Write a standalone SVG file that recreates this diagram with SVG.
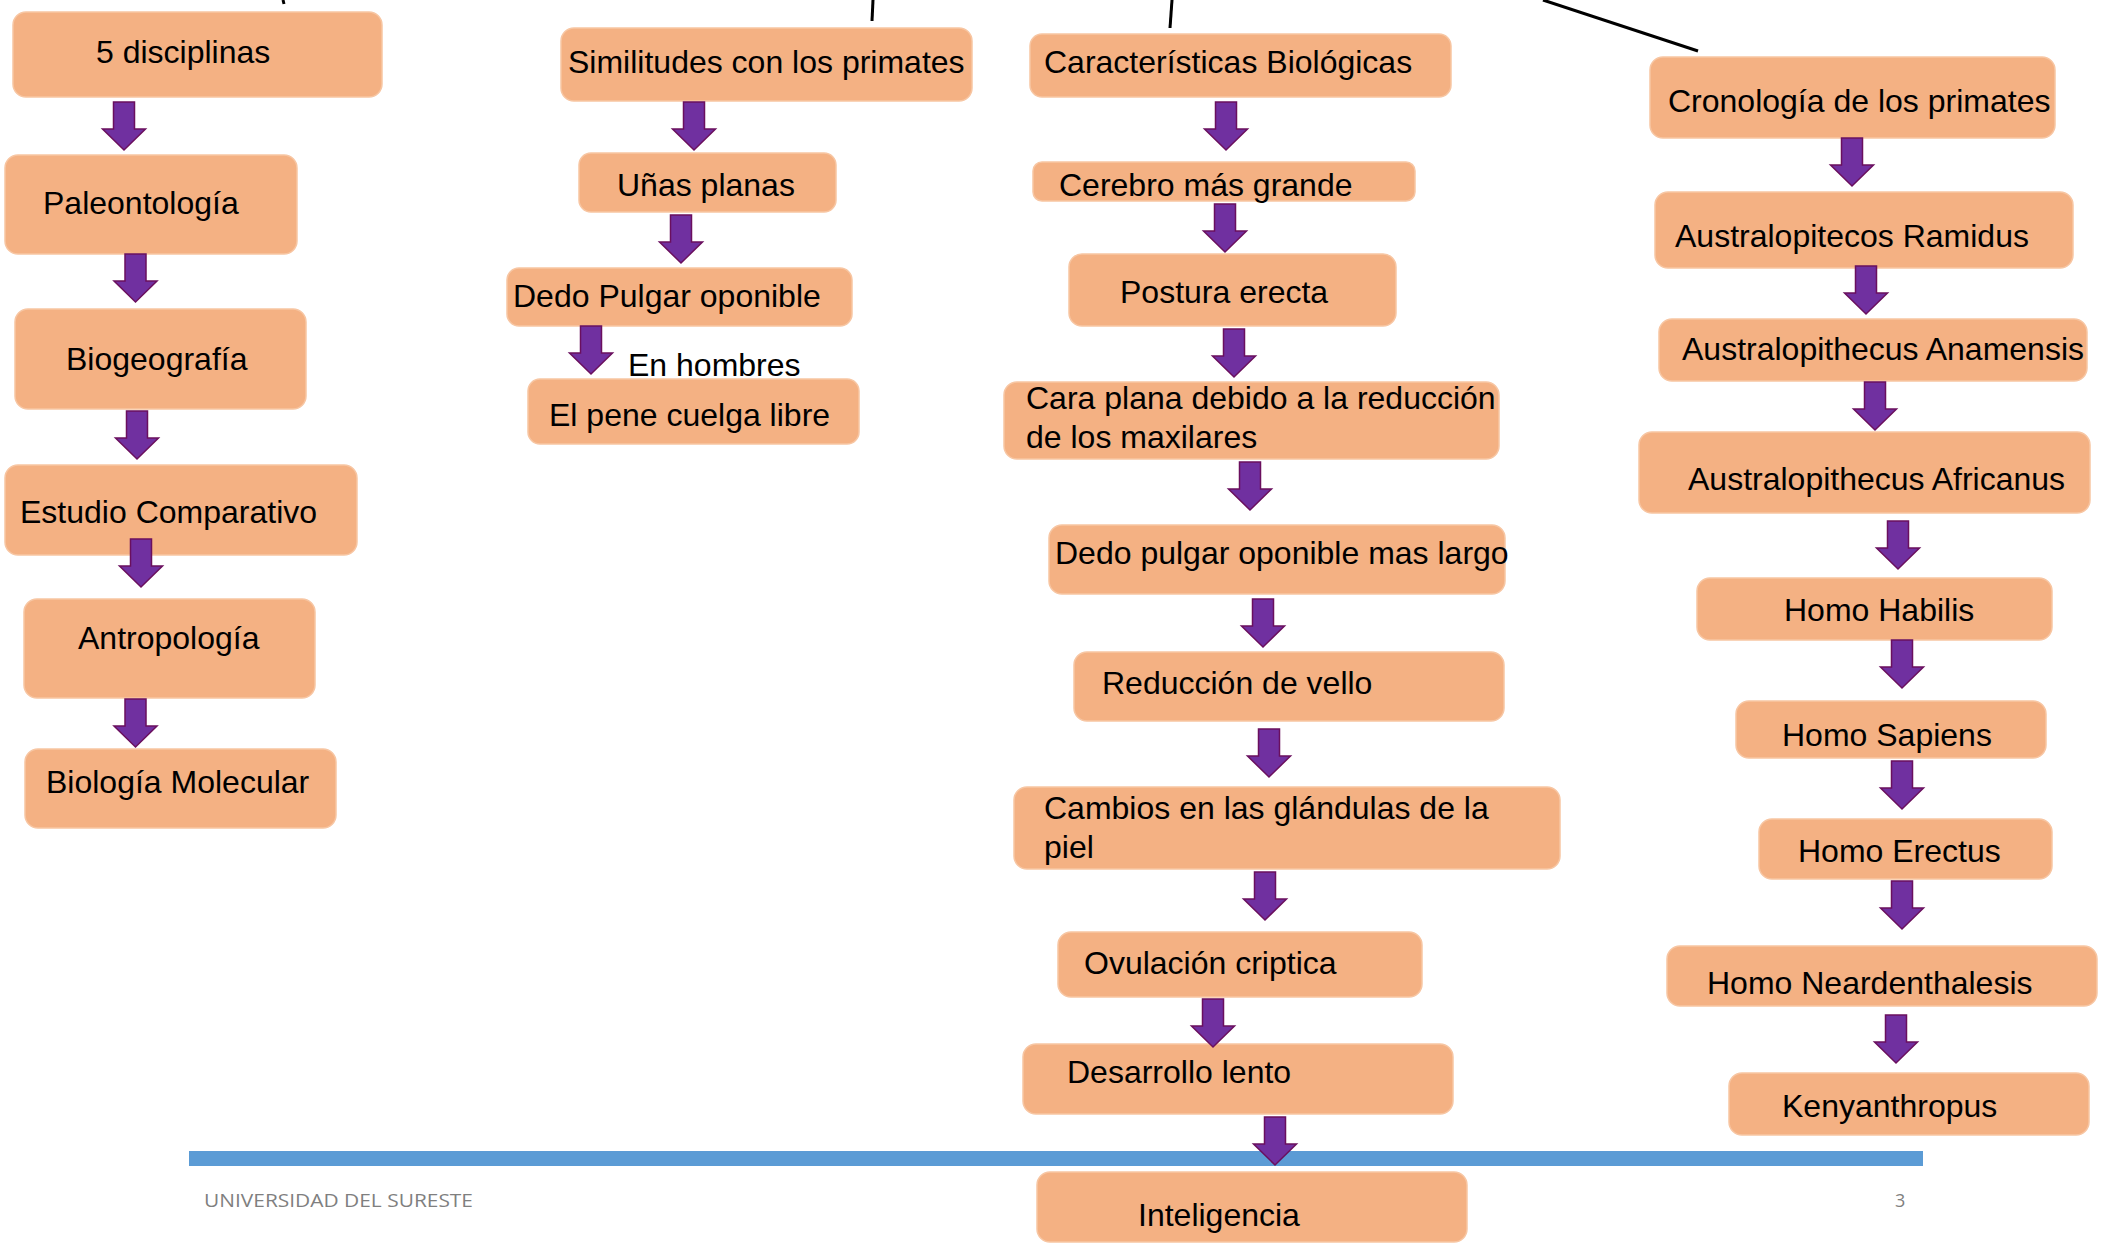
<svg xmlns="http://www.w3.org/2000/svg" xmlns:xlink="http://www.w3.org/1999/xlink" width="2101" height="1249" viewBox="0 0 2101 1249">
<style>
.box{fill:#F4B183;stroke:#F7C6A3;stroke-width:1.5}
.t{font-family:"Liberation Sans",Arial,sans-serif;font-size:32px;fill:#000}
.ln{stroke:#000;stroke-width:3;fill:none}
.foot{font-family:"Open Sans","Liberation Sans",sans-serif;font-size:18px;fill:#7F7F7F}
</style>
<defs>
<path id="arr" d="M-10.5,-48 L10.5,-48 L10.5,-21 L21.5,-21 L0,0 L-21.5,-21 L-10.5,-21 Z" fill="#7030A0" stroke="#6A0F5E" stroke-width="1.5" stroke-linejoin="miter"/>
</defs>
<rect width="2101" height="1249" fill="#fff"/>
<rect x="189" y="1151" width="1734" height="15" fill="#5B9BD5"/>
<g id="topLines">
<line class="ln" x1="283" y1="0" x2="284" y2="4"/>
<line class="ln" x1="873" y1="0" x2="872" y2="21"/>
<line class="ln" x1="1172" y1="0" x2="1170" y2="28"/>
<line class="ln" x1="1543" y1="0" x2="1698" y2="51"/>
</g>
<g id="n-5disciplinas"><rect class="box" x="13" y="12" width="369" height="85" rx="13"/><text class="t" x="96" y="63">5 disciplinas</text></g>
<g id="n-paleontologia"><rect class="box" x="5" y="155" width="292" height="99" rx="13"/><text class="t" x="43" y="214">Paleontología</text></g>
<g id="n-biogeografia"><rect class="box" x="15" y="309" width="291" height="100" rx="13"/><text class="t" x="66" y="370">Biogeografía</text></g>
<g id="n-estudio"><rect class="box" x="5" y="465" width="352" height="90" rx="13"/><text class="t" x="20" y="523">Estudio Comparativo</text></g>
<g id="n-antropologia"><rect class="box" x="24" y="599" width="291" height="99" rx="13"/><text class="t" x="78" y="649">Antropología</text></g>
<g id="n-biomolecular"><rect class="box" x="25" y="749" width="311" height="79" rx="13"/><text class="t" x="46" y="793">Biología Molecular</text></g>
<g id="n-similitudes"><rect class="box" x="561" y="28" width="411" height="73" rx="13"/><text class="t" x="568" y="73">Similitudes con los primates</text></g>
<g id="n-unas"><rect class="box" x="579" y="153" width="257" height="59" rx="12"/><text class="t" x="617" y="196">Uñas planas</text></g>
<g id="n-dedopulgar"><rect class="box" x="507" y="268" width="345" height="58" rx="12"/><text class="t" x="513" y="307">Dedo Pulgar oponible</text></g>
<g id="n-pene"><rect class="box" x="528" y="379" width="331" height="65" rx="12"/><text class="t" x="549" y="426">El pene cuelga libre</text></g>
<text id="l-enhombres" class="t" x="628" y="376">En hombres</text>
<g id="n-caracteristicas"><rect class="box" x="1030" y="34" width="421" height="63" rx="12"/><text class="t" x="1044" y="73">Características Biológicas</text></g>
<g id="n-cerebro"><rect class="box" x="1033" y="162" width="382" height="39" rx="9"/><text class="t" x="1059" y="196">Cerebro más grande</text></g>
<g id="n-postura"><rect class="box" x="1069" y="254" width="327" height="72" rx="13"/><text class="t" x="1120" y="303">Postura erecta</text></g>
<g id="n-caraplana"><rect class="box" x="1004" y="382" width="495" height="77" rx="13"/><text class="t" x="1026" y="409">Cara plana debido a la reducción</text><text class="t" x="1026" y="448">de los maxilares</text></g>
<g id="n-dedolargo"><rect class="box" x="1049" y="525" width="456" height="69" rx="13"/><text class="t" x="1055" y="564">Dedo pulgar oponible mas largo</text></g>
<g id="n-vello"><rect class="box" x="1074" y="652" width="430" height="69" rx="13"/><text class="t" x="1102" y="694">Reducción de vello</text></g>
<g id="n-glandulas"><rect class="box" x="1014" y="787" width="546" height="82" rx="13"/><text class="t" x="1044" y="819">Cambios en las glándulas de la</text><text class="t" x="1044" y="858">piel</text></g>
<g id="n-ovulacion"><rect class="box" x="1058" y="932" width="364" height="65" rx="13"/><text class="t" x="1084" y="974">Ovulación criptica</text></g>
<g id="n-desarrollo"><rect class="box" x="1023" y="1044" width="430" height="70" rx="13"/><text class="t" x="1067" y="1083">Desarrollo lento</text></g>
<g id="n-inteligencia"><rect class="box" x="1037" y="1172" width="430" height="70" rx="13"/><text class="t" x="1138" y="1226">Inteligencia</text></g>
<g id="n-cronologia"><rect class="box" x="1650" y="57" width="405" height="81" rx="13"/><text class="t" x="1668" y="112">Cronología de los primates</text></g>
<g id="n-ramidus"><rect class="box" x="1655" y="192" width="418" height="76" rx="13"/><text class="t" x="1675" y="247">Australopitecos Ramidus</text></g>
<g id="n-anamensis"><rect class="box" x="1659" y="319" width="428" height="62" rx="13"/><text class="t" x="1682" y="360">Australopithecus Anamensis</text></g>
<g id="n-africanus"><rect class="box" x="1639" y="432" width="451" height="81" rx="13"/><text class="t" x="1688" y="490">Australopithecus Africanus</text></g>
<g id="n-habilis"><rect class="box" x="1697" y="578" width="355" height="62" rx="13"/><text class="t" x="1784" y="621">Homo Habilis</text></g>
<g id="n-sapiens"><rect class="box" x="1736" y="701" width="310" height="57" rx="13"/><text class="t" x="1782" y="746">Homo Sapiens</text></g>
<g id="n-erectus"><rect class="box" x="1759" y="819" width="293" height="60" rx="13"/><text class="t" x="1798" y="862">Homo Erectus</text></g>
<g id="n-neardenthalesis"><rect class="box" x="1667" y="946" width="430" height="60" rx="13"/><text class="t" x="1707" y="994">Homo Neardenthalesis</text></g>
<g id="n-kenyanthropus"><rect class="box" x="1729" y="1073" width="360" height="62" rx="13"/><text class="t" x="1782" y="1117">Kenyanthropus</text></g>
<g id="connectors">
<use xlink:href="#arr" transform="translate(124,150)"/>
<use xlink:href="#arr" transform="translate(135.5,302)"/>
<use xlink:href="#arr" transform="translate(137,459)"/>
<use xlink:href="#arr" transform="translate(141,587)"/>
<use xlink:href="#arr" transform="translate(135.5,747)"/>
<use xlink:href="#arr" transform="translate(694,150)"/>
<use xlink:href="#arr" transform="translate(681,263)"/>
<use xlink:href="#arr" transform="translate(591,374)"/>
<use xlink:href="#arr" transform="translate(1226,150)"/>
<use xlink:href="#arr" transform="translate(1225,252)"/>
<use xlink:href="#arr" transform="translate(1234,377)"/>
<use xlink:href="#arr" transform="translate(1250,510)"/>
<use xlink:href="#arr" transform="translate(1263,647)"/>
<use xlink:href="#arr" transform="translate(1269,777)"/>
<use xlink:href="#arr" transform="translate(1265,920)"/>
<use xlink:href="#arr" transform="translate(1213,1047)"/>
<use xlink:href="#arr" transform="translate(1275,1165)"/>
<use xlink:href="#arr" transform="translate(1852,186)"/>
<use xlink:href="#arr" transform="translate(1866,314)"/>
<use xlink:href="#arr" transform="translate(1875,430)"/>
<use xlink:href="#arr" transform="translate(1898,569)"/>
<use xlink:href="#arr" transform="translate(1902,688)"/>
<use xlink:href="#arr" transform="translate(1902,809)"/>
<use xlink:href="#arr" transform="translate(1902,929)"/>
<use xlink:href="#arr" transform="translate(1896,1063)"/>
</g>
<text class="foot" x="204" y="1207" textLength="269" lengthAdjust="spacingAndGlyphs">UNIVERSIDAD DEL SURESTE</text>
<text class="foot" x="1895" y="1207">3</text>
</svg>
